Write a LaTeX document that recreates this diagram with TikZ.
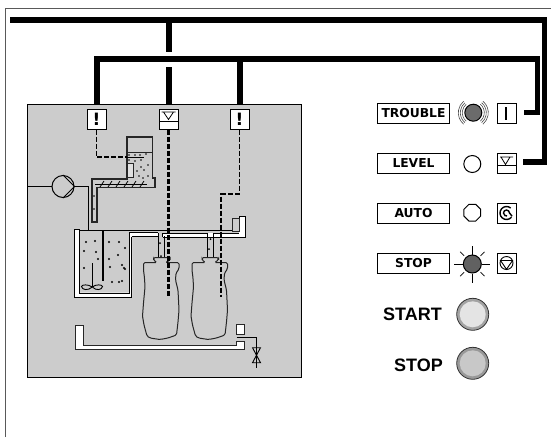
\documentclass[tikz,border=0pt]{standalone}
\usepackage{fontspec}
\setmainfont{Liberation Sans}
\newfontfamily\lab{DejaVu Sans Bold}
\usetikzlibrary{calc,shapes.geometric}
\definecolor{panel}{HTML}{CCCCCC}
\tikzset{
  x=1pt,y=-1pt,
  bus/.style={line width=5.5pt,line cap=butt,line join=miter},
  outl/.style={line width=1pt,draw=black!85},
  signal/.style={line width=1.6pt,dash pattern=on 5pt off 2pt},
  sigbox/.style={draw=black,line width=1pt,fill=white,minimum width=19pt,minimum height=20pt,inner sep=0pt,font=\lab\fontsize{17}{17}\selectfont},
  namebox/.style={draw=black,line width=1pt,fill=white,minimum width=72pt,minimum height=20pt,inner sep=0pt,font=\lab\fontsize{12.3}{12.3}\selectfont},
  pipew/.style={draw=black!85,line width=.8pt,fill=white},
  btn/.style={font=\bfseries\fontsize{18}{18}\selectfont,inner sep=0pt,anchor=east},
  ray/.style={line width=.7pt,draw=black}
}
\newcommand{\bottle}[1]{%
\draw[outl,fill=panel,shift={(#1,0)},rounded corners=1.5pt] (153.5,257.5) -- (170,257.5) -- (170,260) -- (166,262.5) -- (179,262.5) -- (179,269) -- (176,273) -- (175.5,280) -- (178,290) -- (179,310) -- (178,322) -- (176.5,335) -- (168,338) -- (160,339.5) -- (150,338) -- (147,336) -- (144,325) -- (142.5,316) -- (143.5,303) -- (145,287) -- (144.5,278) -- (143.5,270) -- (143.5,262.5) -- (157,262.5) -- (153.5,260) -- cycle;}
\begin{document}
\begin{tikzpicture}
\useasboundingbox (0,0) rectangle (551,437);
\fill[white] (0,0) rectangle (551,437);
% outer sheet
\draw[line width=.8pt,draw=black!65] (5,437) -- (5,8.5) -- (551,8.5);
% panel
\draw[line width=1pt,fill=panel] (27,104) rectangle (301,377);
% bus lines
\node[sigbox] (w1) at (96.5,119) {!};
\node[sigbox] (lv) at (168.5,119) {};
\node[sigbox] (w2) at (239.5,119) {!};
\coordinate (t0) at (10,20);
\coordinate (t1) at (544.5,20);
\coordinate (t2) at (544.5,162);
\coordinate (t3) at (523,162);
\coordinate (m0) at (169,20);
\coordinate (m1) at (169,52);
\coordinate (m2) at (169,67);
\coordinate (b0) at (97,59);
\coordinate (b1) at (537.5,59);
\coordinate (b2) at (537.5,112.7);
\coordinate (b3) at (524,112.7);
\coordinate (j) at (240,59);
\draw[bus] (t0) -- (t1) -- (t2) -- (t3);
\draw[bus] (m0) -- (m1);
\draw[bus] (m2) -- (169,104);
\draw[bus] (97,104) -- (b0) -- (b1) -- (b2) -- (b3);
\draw[bus] (j) -- (240,104);
% level symbol in box
\draw[line width=.8pt] (159,121) -- (178,121);
\draw[line width=.8pt] (161.5,112) -- (175.5,112) (163.5,112) -- (168.5,119.5) -- (173.5,112) ;
% feed hopper
\draw[outl,line width=1.1pt] (127,152) -- (127,137) -- (152.5,137) -- (152.5,178) -- (155,178) -- (155,187.5) -- (97,187.5) -- (97,222) -- (92,222) -- (92,179) -- (127,179) -- (127,152) -- cycle;
\draw[outl] (127,152) -- (152.5,152);
\draw[pipew,fill=panel!60] (127,163) rectangle (133,177);
\draw[line width=.8pt] (95,184) -- (147,184);
\foreach \x in {100,108,116,124,132,140}{\draw[line width=.8pt] (\x,187) -- (\x+4,181);}
\foreach \x/\y in {129/155,135/155,140/155,146/154,129/160,135/161,141/160,148/165,141/167,137/171,144/170,148/176,139/176,143/178,94/196,94/209}{\fill (\x,\y) circle (.9pt);}
% feed signal
\draw[signal] (w1.south) -- (96.5,157) -- (127,157);
\draw[line width=.8pt] (127,157) -- (144,157);
% pump
\coordinate (pin) at (27,186.5);
\node[circle,draw=black,line width=1pt,minimum size=22pt,inner sep=0pt] (pump) at (63,186.5) {};
\draw[line width=1pt] (pin) -- (pump.west);
\draw[line width=.8pt] (pump.north) -- (pump.east) -- (pump.south);
\draw[line width=1pt] (pump.east) -- (88,186.5) -- (88,230);
% mixing tank
\fill[white] (74,229) rectangle (79.5,297) (74,292.5) rectangle (131.7,297) (129,233) rectangle (132,297);
\draw[line width=.8pt] (74,229) -- (74,297) -- (131.7,297) -- (131.7,236.5);
\draw[line width=.8pt] (74,229) -- (79.5,229);
\draw[line width=1pt] (79.5,229.5) -- (79.5,293) -- (129.5,293) -- (129.5,232.5) -- (158,232.5);
\draw[line width=1pt] (131.7,236.5) -- (158,236.5);
\draw[line width=1pt] (79.5,230) -- (233,230);
\fill[white] (132,233) rectangle (158,236);
% dip tube and agitator
\draw[line width=1.8pt] (103,230) -- (103,281);
\draw[line width=.8pt] (92.3,263) -- (92.3,287);
\draw[line width=.9pt] (92.3,287) .. controls (88,284) and (82,284.5) .. (81.5,286.5) .. controls (82,290) and (88,291) .. (92.3,287) .. controls (96,284) and (102,284.5) .. (102.5,286.5) .. controls (102,290) and (96,291) .. (92.3,287);
\foreach \x/\y in {86/242,95/241,109/242,119/242,125/248,84/251,96/252,118/255,98/259,109/259,84/268,110/267,122/265,124/268,125/269,119/282,112/282,122/281}{\fill (\x,\y) circle (1.1pt);}
% fill pipe
\path[fill=white] (163,233) rectangle (245,237) (239,216) rectangle (245,237);
\draw[line width=.8pt] (162.7,237) -- (245,237) -- (245,216) -- (239,216) -- (239,218);
\draw[line width=.8pt] (162.7,233) -- (162.7,237);
\draw[pipew,fill=panel] (232.7,218) rectangle (239,231);
\draw[line width=1pt] (162.7,233) -- (207,233) (213,233) -- (239,233);
% necks
\draw[line width=.8pt] (158,233) -- (158,257) (164,236) -- (164,257);
\draw[line width=.8pt] (207.5,233) -- (207.5,257) (213,233) -- (213,257);
\bottle{0}
\bottle{48.5}
\foreach \x/\y in {160/243,161/256,210.5/239,209/249,167/262}{\fill (\x,\y) circle (1pt);}
% level signals
\draw[signal,line width=2.2pt] (lv.south) -- (168.5,297);
\draw[signal,line width=1.2pt] (w2.south) -- (239.5,194);
\draw[signal,line width=1.8pt] (239.5,194) -- (221,194) -- (221,297);
% bottom tray
\draw[pipew] (75.7,325) -- (83.3,325) -- (83.3,345.5) -- (236.7,345.5) -- (236.7,341.7) -- (244.3,341.7) -- (244.3,349.2) -- (75.7,349.2) -- cycle;
\draw[pipew] (236.7,324) rectangle (244.3,334);
\coordinate (d0) at (236.7,337.5);
\coordinate (d1) at (256.7,337.5);
\coordinate (v0) at (256.7,347.7);
\coordinate (v1) at (256.7,362.7);
\coordinate (d2) at (256.7,367.5);
\draw[line width=1pt] (d0) -- (d1) -- (v0);
\draw[line width=.8pt] (v0) -- (v1);
\draw[line width=.9pt] (252.5,347.7) -- (260.5,347.7) -- (252.5,362.7) -- (260.5,362.7) -- cycle;
\draw[line width=1pt] (v1) -- (d2);
% name boxes
\node[namebox] (ntrouble) at (413.5,113) {TROUBLE};
\node[namebox] (nlevel) at (413.5,163) {LEVEL};
\node[namebox] (nauto) at (413.5,213) {AUTO};
\node[namebox] (nstop) at (413.5,263.5) {STOP};
% symbol boxes
\node[sigbox] (strouble) at (506.5,113) {};
\node[sigbox] (slevel) at (506.5,163) {};
\node[sigbox] (sauto) at (506.5,213) {};
\node[sigbox] (sstop) at (506.5,263.5) {};
\draw[line width=2.5pt] (506,107) -- (506,120);
\draw[line width=.8pt] (497,165.5) -- (516,165.5);
\draw[line width=.8pt] (500,157) -- (513,157) (501,157) -- (505.5,164.5) -- (510,157);
\draw[line width=1.4pt] ($(sauto)+(-50:6.5)$) arc (-50:-320:6.5);
\draw[line width=1.4pt] ($(sauto)+(0:3)$) arc (0:-280:3);
\draw[line width=1.4pt] ($(sauto)+(0:3)$) -- ($(sauto)+(30:6.5)$);
\draw[line width=.9pt] (506.5,263) circle (6.5pt);
\draw[line width=.9pt] (500.5,260.5) -- (512.5,260.5) -- (506.5,269.3) -- cycle;
% lamps
\node[circle,draw=black,line width=1pt,fill=black!58,minimum size=17pt,inner sep=0pt] (ltrouble) at (473.3,112.7) {};
\foreach \r in {11,13,15}{
  \draw[line width=.6pt,draw=black!70] ($(ltrouble)+(-50:\r)$) arc (-50:50:\r);
  \draw[line width=.6pt,draw=black!70] ($(ltrouble)+(130:\r)$) arc (130:230:\r);
}
\node[circle,draw=black,line width=1pt,fill=white,minimum size=17pt,inner sep=0pt] (llevel) at (472.3,164) {};
\node[regular polygon,regular polygon sides=8,draw=black,line width=1pt,fill=white,minimum size=18pt,inner sep=0pt] (lauto) at (472.3,212.7) {};
\node[circle,draw=black,line width=1pt,fill=black!62,minimum size=18pt,inner sep=0pt] (lstop) at (472.3,264) {};
\draw[ray] (lstop.east) -- +(8.5,0) (lstop.west) -- +(-8.5,0) (lstop.north) -- +(0,-9) (lstop.south) -- +(0,9);
\draw[ray] (lstop.45) ++(1.5,-1.5) -- +(4,-4) (lstop.135) ++(-1.5,-1.5) -- +(-4,-4) (lstop.225) ++(-1.5,1.5) -- +(-4,4) (lstop.315) ++(1.5,1.5) -- +(4,4);
% buttons
\node[btn] (tstart) at (442,314.3) {START};
\node[btn] (tstop) at (443,365) {STOP};
\definecolor{bfa}{HTML}{E4E4E4}\definecolor{bga}{HTML}{A3A3A3}
\definecolor{bfb}{HTML}{C8C8C8}\definecolor{bgb}{HTML}{999999}
\node[circle,draw=black!80,line width=.8pt,fill=bga,minimum size=32pt,inner sep=0pt] (bstart) at (472.7,314.3) {};
\fill[bfa] (bstart) circle (13pt);
\node[circle,draw=black!80,line width=.8pt,fill=bgb,minimum size=32pt,inner sep=0pt] (bstop) at (472.7,363.3) {};
\fill[bfb] (bstop) circle (13pt);
\end{tikzpicture}
\end{document}
